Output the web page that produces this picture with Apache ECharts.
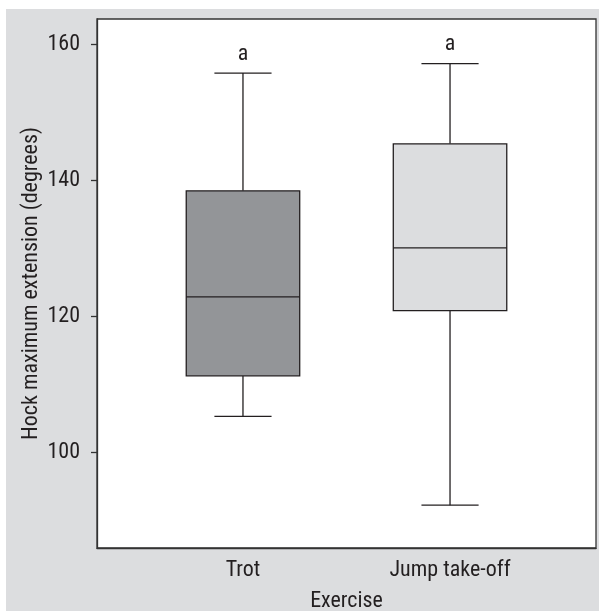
<!DOCTYPE html>
<html>
<head>
<meta charset="utf-8">
<script src="https://cdn.jsdelivr.net/npm/echarts@6/dist/echarts.min.js"></script>
<style>
html,body{margin:0;padding:0;background:#ffffff;}
#chart{position:absolute;left:6px;top:9px;width:593px;height:602px;}
</style>
</head>
<body>
<div id="chart"></div>
<script>
// Data
var categories = ['Trot', 'Jump take-off'];
var positions = [0, 1];
var whiskerLow = [105.35, 92.3];
var q1 = [111.3, 120.9];
var median = [122.9, 130.1];
var q3 = [138.5, 145.4];
var whiskerHigh = [155.8, 157.2];
var letters = ['a', 'a'];
var yTicks = [100, 120, 140, 160];
var fills = ['#939598', '#dcdddf'];

var FONT = "'Roboto Condensed', 'Liberation Sans Narrow', 'Arial Narrow', 'Liberation Sans', sans-serif";
var FS = 22;
var INK = '#231f20';

var data = positions.map(function (p, i) {
  return [p, whiskerLow[i], q1[i], median[i], q3[i], whiskerHigh[i], i];
});

var chart = echarts.init(document.getElementById('chart'));
chart.setOption({
  backgroundColor: '#dcdddf',
  animation: false,
  grid: {
    left: 91, right: 3, top: 10, bottom: 63,
    outerBoundsMode: 'none',
    containLabel: false,
    show: true, backgroundColor: '#ffffff', borderColor: '#333333', borderWidth: 1.3
  },
  xAxis: {
    type: 'value',
    min: -0.705, max: 1.705,
    splitLine: { show: false },
    axisLine: { show: true, onZero: false, lineStyle: { color: '#333333', width: 1.3 } },
    axisTick: { show: false },
    axisLabel: {
      customValues: positions,
      formatter: function (v) { return categories[Math.round(v)]; },
      fontFamily: FONT, fontSize: FS, color: INK, margin: 11
    },
    name: 'Exercise',
    nameLocation: 'middle',
    nameGap: 42,
    nameMoveOverlap: false,
    nameTextStyle: { fontFamily: FONT, fontSize: FS, color: INK }
  },
  yAxis: {
    type: 'value',
    min: 86, max: 163.75,
    splitLine: { show: false },
    axisLine: { show: true, onZero: false, lineStyle: { color: '#333333', width: 1.3 } },
    axisTick: { show: true, customValues: yTicks, length: 6, lineStyle: { color: '#333333', width: 1.3 } },
    axisLabel: {
      customValues: yTicks,
      fontFamily: FONT, fontSize: FS, color: INK, margin: 17
    },
    name: 'Hock maximum extension (degrees)',
    nameLocation: 'middle',
    nameGap: 55,
    nameMoveOverlap: false,
    nameTextStyle: { fontFamily: FONT, fontSize: FS, color: INK }
  },
  series: [{
    type: 'custom',
    data: data,
    encode: { x: 0, y: [1, 2, 3, 4, 5] },
    renderItem: function (params, api) {
      var x = api.value(0);
      var idx = api.value(6);
      var bw = 0.274, cw = 0.138;
      var pLow = api.coord([x, api.value(1)]);
      var pQ1 = api.coord([x, api.value(2)]);
      var pMed = api.coord([x, api.value(3)]);
      var pQ3 = api.coord([x, api.value(4)]);
      var pHigh = api.coord([x, api.value(5)]);
      var bl = api.coord([x - bw, api.value(3)])[0];
      var br = api.coord([x + bw, api.value(3)])[0];
      var cl = api.coord([x - cw, api.value(3)])[0];
      var cr = api.coord([x + cw, api.value(3)])[0];
      var ls = { stroke: INK, lineWidth: 1.3 };
      return {
        type: 'group',
        children: [
          { type: 'line', shape: { x1: pHigh[0], y1: pHigh[1], x2: pQ3[0], y2: pQ3[1] }, style: ls },
          { type: 'line', shape: { x1: pQ1[0], y1: pQ1[1], x2: pLow[0], y2: pLow[1] }, style: ls },
          { type: 'line', shape: { x1: cl, y1: pHigh[1], x2: cr, y2: pHigh[1] }, style: ls },
          { type: 'line', shape: { x1: cl, y1: pLow[1], x2: cr, y2: pLow[1] }, style: ls },
          { type: 'rect', shape: { x: bl, y: pQ3[1], width: br - bl, height: pQ1[1] - pQ3[1] },
            style: { fill: fills[idx], stroke: INK, lineWidth: 1.3 } },
          { type: 'line', shape: { x1: bl, y1: pMed[1], x2: br, y2: pMed[1] }, style: ls },
          { type: 'text', x: pHigh[0], y: pHigh[1] - 19,
            style: { text: letters[idx], fill: INK, font: FS + 'px ' + FONT, align: 'center', verticalAlign: 'middle' } }
        ]
      };
    }
  }]
});
</script>
</body>
</html>
